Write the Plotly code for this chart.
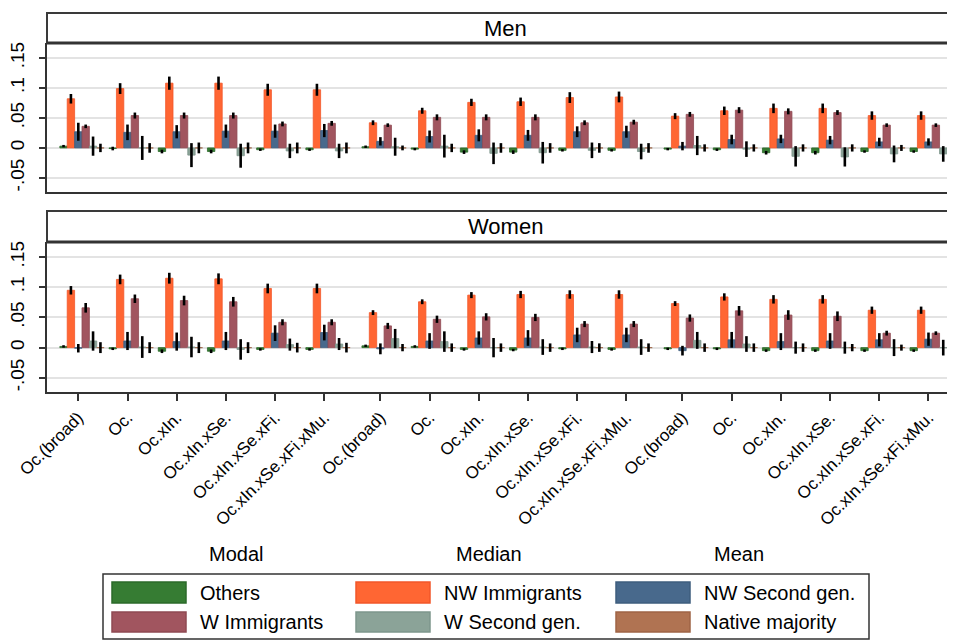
import plotly.graph_objects as go

# ---------------- data ----------------
blocks = ["Modal", "Median", "Mean"]
specs = ["Oc.(broad)", "Oc.", "Oc.xIn.", "Oc.xIn.xSe.", "Oc.xIn.xSe.xFi.", "Oc.xIn.xSe.xFi.xMu."]
series_names = ["Others", "NW Immigrants", "NW Second gen.", "W Immigrants", "W Second gen.", "Native majority"]
series_colors = ["#367C33", "#FF6633", "#48698C", "#A1555F", "#8BA398", "#B07352"]
series_edges = ["#2B6A2A", "#F2572A", "#3E5D7E", "#8F4A53", "#7E968C", "#9E6446"]

# Men
men_others = [0.003, -0.001, -0.006, -0.006, -0.003, -0.003, 0.002, -0.002, -0.007, -0.007, -0.004, -0.004, -0.002, -0.003, -0.008, -0.008, -0.006, -0.006]
men_others_err = [0.002, 0.003, 0.003, 0.003, 0.002, 0.002, 0.002, 0.002, 0.003, 0.003, 0.002, 0.002, 0.002, 0.002, 0.003, 0.003, 0.002, 0.002]
men_nw_imm = [0.082, 0.099, 0.108, 0.108, 0.097, 0.097, 0.042, 0.062, 0.076, 0.077, 0.084, 0.085, 0.053, 0.062, 0.066, 0.066, 0.054, 0.054]
men_nw_imm_err = [0.008, 0.009, 0.011, 0.011, 0.010, 0.010, 0.004, 0.005, 0.006, 0.007, 0.009, 0.009, 0.005, 0.007, 0.008, 0.008, 0.007, 0.007]
men_nw_sec = [0.027, 0.026, 0.027, 0.028, 0.028, 0.029, 0.011, 0.019, 0.021, 0.021, 0.027, 0.027, 0.003, 0.014, 0.015, 0.013, 0.010, 0.010]
men_nw_sec_err = [0.015, 0.013, 0.011, 0.011, 0.011, 0.011, 0.007, 0.010, 0.010, 0.009, 0.009, 0.010, 0.007, 0.008, 0.007, 0.007, 0.007, 0.006]
men_w_imm = [0.036, 0.054, 0.054, 0.054, 0.040, 0.041, 0.038, 0.051, 0.051, 0.051, 0.042, 0.043, 0.056, 0.063, 0.061, 0.059, 0.038, 0.038]
men_w_imm_err = [0.003, 0.005, 0.005, 0.005, 0.004, 0.004, 0.003, 0.005, 0.005, 0.005, 0.004, 0.004, 0.004, 0.005, 0.005, 0.004, 0.003, 0.003]
men_w_sec = [0.003, 0.000, -0.012, -0.013, -0.005, -0.005, 0.002, 0.003, -0.009, -0.008, -0.004, -0.006, 0.004, -0.002, -0.014, -0.015, -0.010, -0.010]
men_w_sec_err = [0.016, 0.020, 0.020, 0.020, 0.012, 0.012, 0.015, 0.019, 0.018, 0.018, 0.013, 0.013, 0.016, 0.013, 0.017, 0.016, 0.014, 0.013]
men_native = [0.0] * 18
men_native_err = [0.007, 0.008, 0.009, 0.009, 0.009, 0.009, 0.004, 0.007, 0.008, 0.008, 0.008, 0.008, 0.006, 0.006, 0.006, 0.006, 0.005, 0.005]

# Women
women_others = [0.002, -0.002, -0.006, -0.006, -0.003, -0.003, 0.003, 0.002, -0.003, -0.004, -0.002, -0.003, -0.002, -0.002, -0.005, -0.005, -0.005, -0.005]
women_others_err = [0.002, 0.002, 0.003, 0.003, 0.002, 0.002, 0.002, 0.002, 0.002, 0.002, 0.002, 0.002, 0.002, 0.002, 0.002, 0.002, 0.002, 0.002]
women_nw_imm = [0.095, 0.113, 0.115, 0.114, 0.098, 0.098, 0.058, 0.076, 0.087, 0.088, 0.088, 0.088, 0.073, 0.084, 0.080, 0.080, 0.062, 0.062]
women_nw_imm_err = [0.007, 0.008, 0.009, 0.009, 0.008, 0.008, 0.004, 0.004, 0.005, 0.006, 0.007, 0.007, 0.004, 0.006, 0.007, 0.007, 0.006, 0.006]
women_nw_sec = [-0.001, 0.011, 0.010, 0.011, 0.024, 0.025, -0.002, 0.011, 0.016, 0.016, 0.021, 0.021, -0.005, 0.013, 0.010, 0.011, 0.013, 0.014]
women_nw_sec_err = [0.007, 0.015, 0.015, 0.015, 0.013, 0.013, 0.009, 0.013, 0.011, 0.013, 0.012, 0.012, 0.008, 0.013, 0.014, 0.013, 0.011, 0.011]
women_w_imm = [0.066, 0.081, 0.078, 0.076, 0.042, 0.042, 0.036, 0.047, 0.051, 0.050, 0.039, 0.039, 0.049, 0.061, 0.054, 0.052, 0.024, 0.024]
women_w_imm_err = [0.008, 0.007, 0.008, 0.008, 0.005, 0.005, 0.005, 0.006, 0.006, 0.006, 0.005, 0.005, 0.006, 0.008, 0.008, 0.008, 0.004, 0.003]
women_w_sec = [0.011, 0.001, 0.001, -0.003, 0.005, 0.006, 0.015, 0.010, 0.000, 0.001, 0.001, 0.001, 0.012, 0.006, 0.000, 0.000, 0.000, 0.000]
women_w_sec_err = [0.016, 0.018, 0.017, 0.017, 0.010, 0.010, 0.016, 0.017, 0.016, 0.013, 0.010, 0.013, 0.014, 0.013, 0.010, 0.010, 0.014, 0.013]
women_native = [0.0] * 18
women_native_err = [0.009, 0.009, 0.009, 0.009, 0.008, 0.008, 0.006, 0.007, 0.007, 0.007, 0.007, 0.007, 0.007, 0.007, 0.007, 0.006, 0.005, 0.005]

ytick_vals = [-0.05, 0, 0.05, 0.1, 0.15]
ytick_text = ["-.05", "0", ".05", ".1", ".15"]

# ---------------- layout helpers ----------------
# the page body has an 8px margin, so screen pixel p corresponds to figure pixel p - OFF
OFF = 8
W, H = 955, 640
ML = 47 - OFF
MT = 43 - OFF
MB = H - (392 - OFF)
MR = 0
PW, PH = W - ML - MR, H - MT - MB
def px2x(p):
    return (p - OFF - ML) / PW
def py2y(p):
    return (H - MB - (p - OFF)) / PH

block_gap = 0.14
bar_w = 0.15
xpos = [b * (len(specs) + block_gap) + i for b in range(len(blocks)) for i in range(len(specs))]
ticktext = specs * len(blocks)

men = [(men_others, men_others_err), (men_nw_imm, men_nw_imm_err), (men_nw_sec, men_nw_sec_err),
       (men_w_imm, men_w_imm_err), (men_w_sec, men_w_sec_err), (men_native, men_native_err)]
women = [(women_others, women_others_err), (women_nw_imm, women_nw_imm_err), (women_nw_sec, women_nw_sec_err),
         (women_w_imm, women_w_imm_err), (women_w_sec, women_w_sec_err), (women_native, women_native_err)]

fig = go.Figure()
for panel, (xa, ya) in [(men, ("x", "y")), (women, ("x2", "y2"))]:
    for k, (vals, errs) in enumerate(panel):
        fig.add_trace(go.Bar(
            x=xpos, y=vals, width=bar_w, offset=(k - 2.5) * bar_w,
            marker=dict(color=series_colors[k], line=dict(color=series_edges[k], width=0.8)),
            error_y=dict(type="data", array=errs, color="black", thickness=2.6, width=0),
            name=series_names[k], showlegend=False, xaxis=xa, yaxis=ya,
        ))

unit_px = 49.2
first_tick_screen = 78.3
xr = [-(first_tick_screen - 47) / unit_px, (W + OFF - first_tick_screen) / unit_px]
yr = [-0.0735, 0.175]
font = "Liberation Sans, Arial, sans-serif"
axis_common = dict(showgrid=False, zeroline=False, showline=True, linecolor="#333333", linewidth=2)
yax = dict(range=yr, tickvals=ytick_vals, ticktext=ytick_text, tickangle=-90,
           ticks="outside", ticklen=6, tickwidth=1.5, tickcolor="#333333",
           showgrid=True, gridcolor="#E3E3E3", gridwidth=1.6, zeroline=False,
           showline=True, linecolor="#333333", linewidth=2, ticklabelstandoff=7,
           tickfont=dict(size=19, color="black", family=font))

fig.update_layout(
    width=W, height=H, margin=dict(l=ML, r=MR, t=MT, b=MB),
    plot_bgcolor="white", paper_bgcolor="white", barmode="overlay",
    font=dict(family=font, color="black"),
    xaxis=dict(domain=[0, 1], range=xr, anchor="y", showticklabels=False, ticks="",
               tickvals=xpos, **axis_common),
    xaxis2=dict(domain=[0, 1], range=xr, anchor="y2", matches="x", tickvals=xpos, ticktext=ticktext,
                tickangle=-45, ticks="outside", ticklen=7, tickwidth=1.5, tickcolor="#333333",
                tickfont=dict(size=17, color="black", family=font), **axis_common),
    yaxis=dict(domain=[py2y(192), 1], anchor="x", **yax),
    yaxis2=dict(domain=[0, py2y(242)], anchor="x2", **yax),
)

shapes = []
annotations = []
# strips
for top, bot, label in [(13, 43, "Men"), (211, 242, "Women")]:
    shapes.append(dict(type="rect", xref="paper", yref="paper", x0=0, x1=1.02, y0=py2y(bot), y1=py2y(top),
                       line=dict(color="#3A3A3A", width=2), fillcolor="white", layer="below"))
    shapes.append(dict(type="line", xref="paper", yref="paper", x0=0, x1=1.02, y0=py2y(bot), y1=py2y(bot),
                       line=dict(color="#333333", width=3)))
    annotations.append(dict(text=label, xref="paper", yref="paper", x=px2x(505), y=py2y((top + bot) / 2),
                            showarrow=False, font=dict(size=22, color="black", family=font),
                            xanchor="center", yanchor="middle"))

# block labels
for lab, cx in zip(blocks, [236, 489, 739]):
    annotations.append(dict(text=lab, xref="paper", yref="paper", x=px2x(cx), y=py2y(554),
                            showarrow=False, font=dict(size=20, color="black", family=font),
                            xanchor="center", yanchor="middle"))

# legend box
shapes.append(dict(type="rect", xref="paper", yref="paper", x0=px2x(103), x1=px2x(869),
                   y0=py2y(639), y1=py2y(574), line=dict(color="#333333", width=1.5), fillcolor="white"))
col_x = [112, 356, 616]
row_y = [(582, 603), (612, 632)]
for k, name in enumerate(series_names):
    r, c = divmod(k, 3)
    y0, y1 = row_y[r]
    sx = col_x[c]
    shapes.append(dict(type="rect", xref="paper", yref="paper", x0=px2x(sx), x1=px2x(sx + 74),
                       y0=py2y(y1), y1=py2y(y0), fillcolor=series_colors[k],
                       line=dict(color=series_edges[k], width=1.5)))
    annotations.append(dict(text=name, xref="paper", yref="paper", x=px2x(sx + 86), y=py2y((y0 + y1) / 2),
                            showarrow=False, font=dict(size=20, color="black", family=font),
                            xanchor="left", yanchor="middle"))

fig.update_layout(shapes=shapes, annotations=annotations)
fig.write_html("out.html")
